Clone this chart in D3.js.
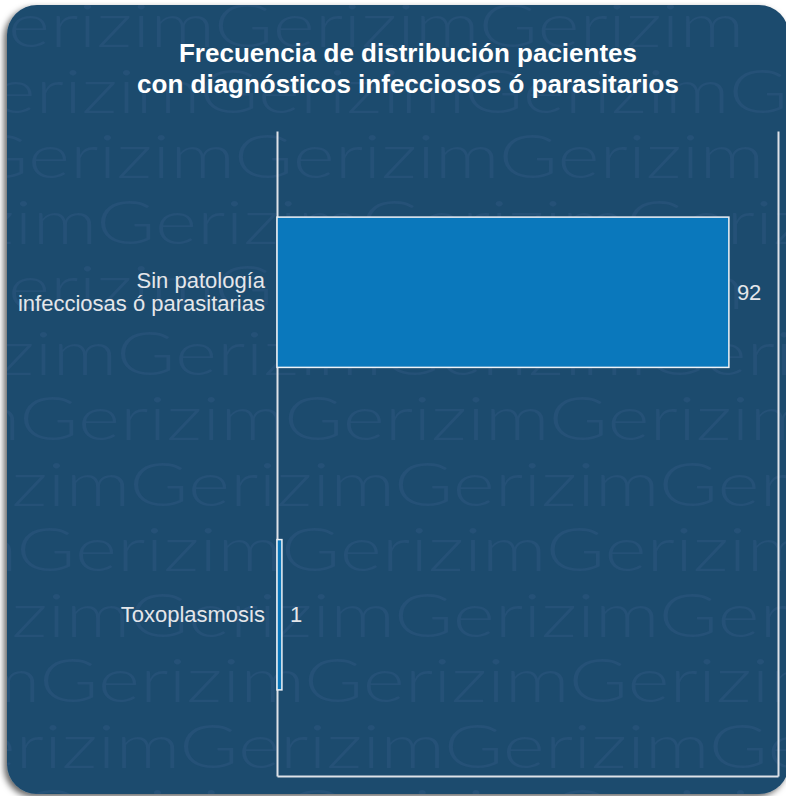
<!DOCTYPE html>
<html>
<head>
<meta charset="utf-8">
<script src="https://cdn.jsdelivr.net/npm/d3@7"></script>
<style>
  body { margin: 0; background: #fff; }
  svg { display: block; }
</style>
</head>
<body>
<svg id="chart"></svg>
<script>
// data
const categories = ['Sin patología infecciosas ó parasitarias', 'Toxoplasmosis'];
const labelLines = [['Sin patología', 'infecciosas ó parasitarias'], ['Toxoplasmosis']];
const values = [92, 1];
const titleLines = ['Frecuencia de distribución pacientes', 'con diagnósticos infecciosos ó parasitarios'];

const width = 786, height = 796;
const plot = { left: 277, right: 778, top: 131, bottom: 776 };

const svg = d3.select('#chart').attr('width', width).attr('height', height);
const defs = svg.append('defs');

const shadow = defs.append('filter').attr('id', 'shadow')
  .attr('x', '-5%').attr('y', '-5%').attr('width', '110%').attr('height', '110%');
shadow.append('feDropShadow')
  .attr('dx', -3).attr('dy', 3).attr('stdDeviation', 3)
  .attr('flood-color', '#000').attr('flood-opacity', 0.6);

const card = { x: 7, y: 5, w: 782, h: 789, r: 30 };
defs.append('clipPath').attr('id', 'cardClip')
  .append('rect')
  .attr('x', card.x).attr('y', card.y).attr('width', card.w).attr('height', card.h).attr('rx', card.r);

svg.append('rect')
  .attr('x', card.x).attr('y', card.y).attr('width', card.w).attr('height', card.h).attr('rx', card.r)
  .attr('fill', '#1f4b6e')
  .attr('filter', 'url(#shadow)');

// background watermark (decoration)
const wm = svg.append('g').attr('clip-path', 'url(#cardClip)').attr('aria-hidden', 'true');
const rowOffsets = [20, 270, 40, 167, 20, 187, 90, 200, 87, 200, 110, 250, 90];
rowOffsets.forEach((off, i) => {
  wm.append('g')
    .attr('transform', `translate(${off - 600},${47 + 65.5 * i}) scale(1.3,1)`)
    .append('text')
    .attr('font-family', 'Lato, "Open Sans", sans-serif')
    .attr('font-weight', 300)
    .attr('font-size', 62)
    .attr('fill', '#255177')
    .text('GerizimGerizimGerizimGerizimGerizim');
});

// title
const title = svg.append('text')
  .attr('x', 408)
  .attr('text-anchor', 'middle')
  .attr('font-family', '"Liberation Sans", Arial, sans-serif')
  .attr('font-weight', 'bold')
  .attr('font-size', 26)
  .attr('fill', '#ffffff');
titleLines.forEach((t, i) => {
  title.append('tspan').attr('x', 408).attr('y', 62 + 31 * i).text(t);
});

// scales
const x = d3.scaleLinear().domain([0, 102]).range([plot.left, plot.right]);
const y = d3.scaleBand().domain(categories).range([plot.top, plot.bottom])
  .paddingInner(0.534).paddingOuter(0.267);

// frame lines from axes
const frameColor = '#dde2e8';
const yAxis = svg.append('g')
  .attr('transform', `translate(${plot.left},0)`)
  .call(d3.axisLeft(y).tickSize(0).tickSizeOuter(0).tickPadding(12));
const rightAxis = svg.append('g')
  .attr('transform', `translate(${plot.right},0)`)
  .call(d3.axisRight(y).tickValues([]).tickSizeOuter(0));
const bottomAxis = svg.append('g')
  .attr('transform', `translate(0,${plot.bottom})`)
  .call(d3.axisBottom(x).tickValues([]).tickSizeOuter(0));
[yAxis, rightAxis, bottomAxis].forEach(a => {
  a.select('.domain').attr('stroke', frameColor).attr('stroke-width', 2);
});

// category labels, wrapped
yAxis.selectAll('.tick text')
  .attr('font-family', '"Liberation Sans", Arial, sans-serif')
  .attr('font-size', 22)
  .attr('fill', '#e4e6ea')
  .each(function (d, i) {
    const lines = labelLines[i];
    const t = d3.select(this).text(null).attr('dy', null);
    const lh = 23;
    lines.forEach((ln, j) => {
      t.append('tspan')
        .attr('x', -12)
        .attr('y', (j - (lines.length - 1) / 2) * lh)
        .attr('dy', '0.35em')
        .text(ln);
    });
  });

// bars
svg.append('g').selectAll('rect')
  .data(values)
  .join('rect')
  .attr('x', x(0))
  .attr('y', (d, i) => y(categories[i]))
  .attr('width', d => x(d) - x(0))
  .attr('height', y.bandwidth())
  .attr('fill', '#0a78bc')
  .attr('stroke', '#eef2f6')
  .attr('stroke-width', 1.5);

// value labels
svg.append('g').selectAll('text')
  .data(values)
  .join('text')
  .attr('x', d => x(d) + 8)
  .attr('y', (d, i) => y(categories[i]) + y.bandwidth() / 2)
  .attr('dy', '0.35em')
  .attr('font-family', '"Liberation Sans", Arial, sans-serif')
  .attr('font-size', 22)
  .attr('fill', '#e4e6ea')
  .text(d => d);
</script>
</body>
</html>
